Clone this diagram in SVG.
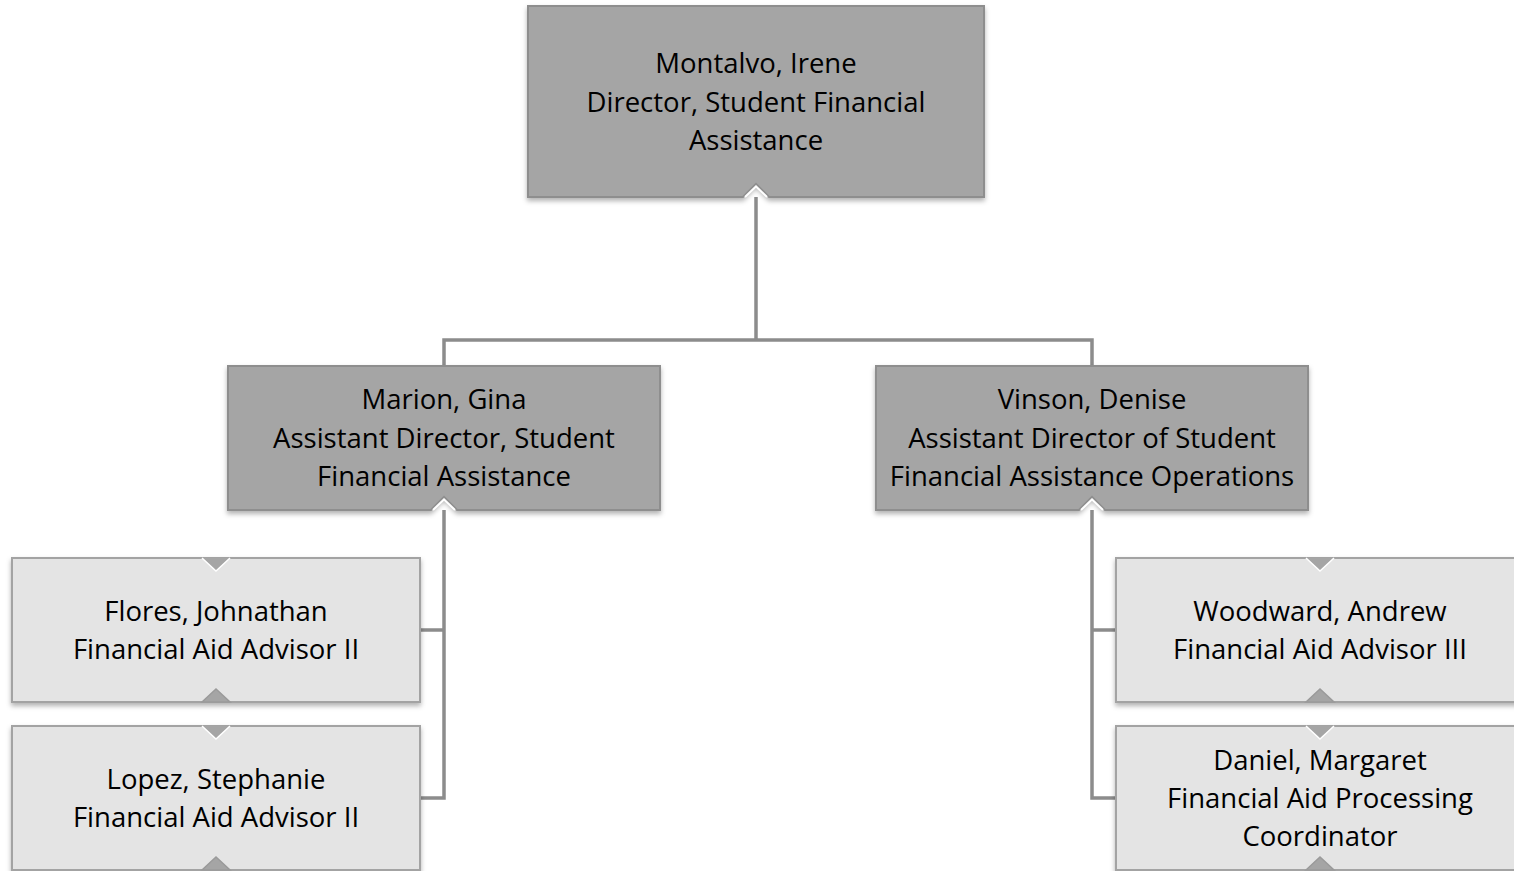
<svg xmlns="http://www.w3.org/2000/svg" width="1514" height="871" viewBox="0 0 1514 871">
<defs>
<filter id="sh" x="-5%" y="-10%" width="110%" height="125%">
<feDropShadow dx="0" dy="3" stdDeviation="2.5" flood-color="#000" flood-opacity="0.3"/>
</filter>
<style>
.dark{fill:#a5a5a5;stroke:#8e8e8e;stroke-width:2;filter:url(#sh)}
.light{fill:#e4e4e4;stroke:#a3a3a3;stroke-width:2;filter:url(#sh)}
.conn{fill:none;stroke:#8c8c8c;stroke-width:3.5}
.t{font-family:"Open Sans","Noto Sans","Liberation Sans",sans-serif;font-size:27.5px;fill:#000;text-anchor:middle}
.wn{fill:none;stroke:#ffffff;stroke-width:2}
.dn{fill:#a5a5a5;stroke:#fff;stroke-width:1.5}
.un{fill:#a5a5a5;stroke:#9a9a9a;stroke-width:1.5}
</style>
</defs>
<rect width="1514" height="871" fill="#ffffff"/>
<g id="connectors">
<path class="conn" d="M756,197 V340 M444,366 V340 H1092 V366"/>
<path class="conn" d="M444,510 V798 H420 M444,630 H420"/>
<path class="conn" d="M1092,510 V798 H1116 M1092,630 H1116"/>
</g>
<g id="node-montalvo">
<path class="dark" d="M528,6 H984 V197 H769 L756,184 L743,197 H528 Z"/>
<path class="wn" d="M745,197 L756,186.5 L767,197"/>
<text class="t" x="756" y="73">Montalvo, Irene</text>
<text class="t" x="756" y="112">Director, Student Financial</text>
<text class="t" x="756" y="150">Assistance</text>
</g>
<g id="node-marion">
<path class="dark" d="M228,366 H660 V510 H457 L444,497 L431,510 H228 Z"/>
<path class="wn" d="M433,510 L444,499.5 L455,510"/>
<text class="t" x="444" y="409">Marion, Gina</text>
<text class="t" x="444" y="448">Assistant Director, Student</text>
<text class="t" x="444" y="486">Financial Assistance</text>
</g>
<g id="node-vinson">
<path class="dark" d="M876,366 H1308 V510 H1105 L1092,497 L1079,510 H876 Z"/>
<path class="wn" d="M1081,510 L1092,499.5 L1103,510"/>
<text class="t" x="1092" y="409">Vinson, Denise</text>
<text class="t" x="1092" y="448">Assistant Director of Student</text>
<text class="t" x="1092" y="486">Financial Assistance Operations</text>
</g>
<g id="node-flores">
<rect class="light" x="12" y="558" width="408" height="144"/>
<path class="dn" d="M202,558 L216,571 L230,558"/>
<path class="un" d="M202,702 L216,689 L230,702 Z"/>
<text class="t" x="216" y="621">Flores, Johnathan</text>
<text class="t" x="216" y="659">Financial Aid Advisor II</text>
</g>
<g id="node-lopez">
<rect class="light" x="12" y="726" width="408" height="144"/>
<path class="dn" d="M202,726 L216,739 L230,726"/>
<path class="un" d="M202,870 L216,857 L230,870 Z"/>
<text class="t" x="216" y="789">Lopez, Stephanie</text>
<text class="t" x="216" y="827">Financial Aid Advisor II</text>
</g>
<g id="node-woodward">
<rect class="light" x="1116" y="558" width="408" height="144"/>
<path class="dn" d="M1306,558 L1320,571 L1334,558"/>
<path class="un" d="M1306,702 L1320,689 L1334,702 Z"/>
<text class="t" x="1320" y="621">Woodward, Andrew</text>
<text class="t" x="1320" y="659">Financial Aid Advisor III</text>
</g>
<g id="node-daniel">
<rect class="light" x="1116" y="726" width="408" height="144"/>
<path class="dn" d="M1306,726 L1320,739 L1334,726"/>
<path class="un" d="M1306,870 L1320,857 L1334,870 Z"/>
<text class="t" x="1320" y="770">Daniel, Margaret</text>
<text class="t" x="1320" y="808">Financial Aid Processing</text>
<text class="t" x="1320" y="846">Coordinator</text>
</g>
</svg>
